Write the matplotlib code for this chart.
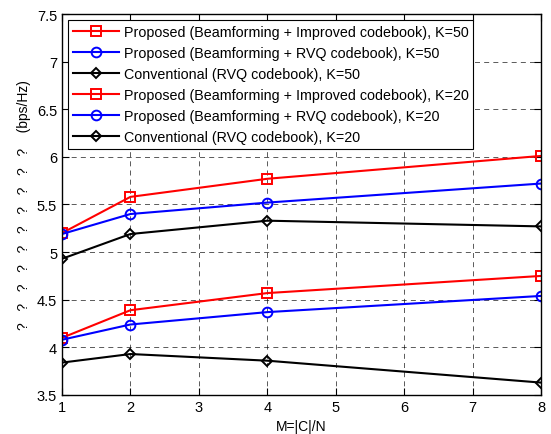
import numpy as np
import matplotlib
matplotlib.use('Agg')
import matplotlib.pyplot as plt

plt.rcParams['font.family'] = ['Liberation Sans', 'DejaVu Sans']

# x axis values
m_vals = [1, 2, 4, 8]

# K=50 curves
prop_imp_50 = [5.20, 5.58, 5.77, 6.01]
prop_rvq_50 = [5.19, 5.40, 5.52, 5.72]
conv_50 = [4.93, 5.19, 5.33, 5.27]

# K=20 curves
prop_imp_20 = [4.10, 4.39, 4.57, 4.75]
prop_rvq_20 = [4.08, 4.24, 4.37, 4.54]
conv_20 = [3.84, 3.93, 3.86, 3.63]

labels = [
    'Proposed (Beamforming + Improved codebook), K=50',
    'Proposed (Beamforming + RVQ codebook), K=50',
    'Conventional (RVQ codebook), K=50',
    'Proposed (Beamforming + Improved codebook), K=20',
    'Proposed (Beamforming + RVQ codebook), K=20',
    'Conventional (RVQ codebook), K=20',
]

fig = plt.figure(figsize=(5.51, 4.35), dpi=100)
ax = fig.add_axes([0.1125, 0.0897, 0.8695, 0.8758])

series = [prop_imp_50, prop_rvq_50, conv_50, prop_imp_20, prop_rvq_20, conv_20]
styles = [('red', 's'), ('blue', 'o'), ('black', 'D')] * 2

for vals, (col, mk), lab in zip(series, styles, labels):
    ms = 5 if mk == 'D' else 7
    ax.plot(m_vals, vals, color=col, marker=mk, markersize=ms,
            markerfacecolor='none', markeredgecolor=col,
            markeredgewidth=1.4, linewidth=1.5, label=lab)

ax.set_xlim(1, 8)
ax.set_ylim(3.5, 7.5)
ax.set_xticks(range(1, 9))
ax.set_yticks(np.arange(3.5, 7.51, 0.5))
ax.set_yticklabels(['3.5', '4', '4.5', '5', '5.5', '6', '6.5', '7', '7.5'])
ax.tick_params(direction='in', top=True, right=True, labelsize=10.5,
               length=5, width=0.8)
ax.grid(True, linestyle=(0, (6, 5)), color='black', linewidth=0.6, alpha=0.75)
for sp in ax.spines.values():
    sp.set_linewidth(1.0)

ax.set_xlabel('M=|C|/N', fontsize=10)
ax.set_ylabel('?   ?   ?   ?   ?   ?   ?   ?   ?   ?    (bps/Hz)', fontsize=10)

leg = ax.legend(loc='upper left', fontsize=10.3, handlelength=3.2,
                labelspacing=0.48, borderpad=0.35, handletextpad=0.3,
                fancybox=False, edgecolor='black', framealpha=1,
                borderaxespad=0.45)
leg.get_frame().set_linewidth(0.8)

fig.savefig('out.png', dpi=100)
